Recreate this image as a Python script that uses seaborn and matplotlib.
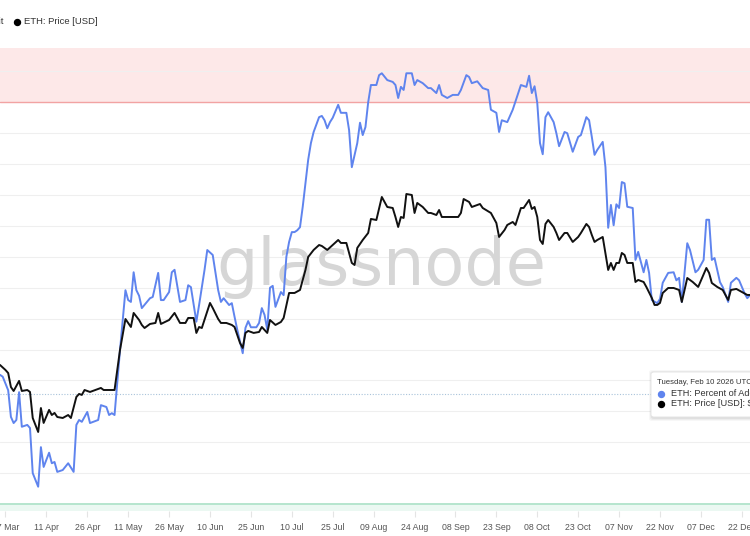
import pandas as pd
import seaborn as sns
import matplotlib.pyplot as plt
import matplotlib.dates as mdates
from matplotlib.lines import Line2D
from matplotlib.patches import FancyBboxPatch
from matplotlib.ticker import NullLocator

# days after 25 Mar 2025
start = pd.Timestamp('2025-03-25')

price_days = [0, 2, 3, 4, 5, 7, 8, 10, 11, 12,
              14, 15, 16, 18, 19, 20, 21, 23, 25, 26,
              28, 29, 30, 31, 33, 35, 37, 38, 41, 42,
              44, 46, 48, 49, 51, 52, 53, 55, 57, 58,
              59, 62, 64, 66, 68, 69, 71, 72, 73, 74,
              77, 78, 80, 81, 83, 85, 86, 88, 89, 90,
              91, 93, 95, 96, 98, 99, 101, 103, 104, 106,
              108, 110, 112, 113, 115, 117, 118, 120, 122, 124,
              125, 127, 129, 130, 131, 133, 135, 136, 138, 140,
              142, 144, 145, 146, 147, 148, 149, 151, 152, 153,
              155, 157, 158, 160, 161, 162, 164, 168, 169, 170,
              172, 173, 176, 177, 180, 182, 183, 185, 186, 188,
              189, 191, 192, 194, 195, 196, 197, 198, 199, 200,
              201, 203, 204, 205, 207, 208, 210, 212, 213, 215,
              216, 217, 218, 219, 221, 223, 224, 225, 226, 227,
              228, 229, 230, 232, 233, 234, 236, 237, 239, 240,
              241, 242, 243, 245, 247, 249, 250, 252, 254, 256,
              259, 260, 261, 263, 265, 267, 268, 270, 272, 274,
              275]
price_usd = [2046, 1994, 1963, 1827, 1790, 1885, 1790, 1799, 1781, 1558,
             1450, 1640, 1519, 1624, 1582, 1599, 1566, 1558, 1582, 1558,
             1736, 1763, 1754, 1799, 1781, 1799, 1818, 1799, 1799, 1799,
             2210, 2591, 2487, 2673, 2578, 2513, 2474, 2526, 2539, 2673,
             2526, 2578, 2673, 2539, 2539, 2605, 2605, 2412, 2487, 2474,
             2814, 2742, 2591, 2539, 2539, 2513, 2487, 2291, 2233, 2412,
             2437, 2412, 2424, 2487, 2412, 2578, 2513, 2552, 2605, 2962,
             2962, 3008, 3334, 3564, 3695, 3790, 3771, 3695, 3790, 3889,
             3830, 3830, 3456, 3420, 3733, 3889, 4032, 4333, 4310, 4851,
             4608, 4584, 4377, 4158, 4377, 4355, 4926, 4901, 4468, 4704,
             4608, 4468, 4468, 4422, 4537, 4377, 4377, 4377, 4468, 4801,
             4728, 4608, 4679, 4584, 4468, 4244, 3950, 4094, 4201, 4266,
             4201, 4584, 4584, 4777, 4561, 4608, 4377, 3889, 3810, 4223,
             4310, 4158, 4032, 3889, 4032, 4032, 3850, 3950, 4032, 4223,
             4158, 3990, 3850, 3889, 3950, 3334, 3456, 3334, 3456, 3456,
             3638, 3601, 3456, 3456, 3134, 3167, 3134, 3055, 2887, 2785,
             2785, 2814, 2962, 3039, 3039, 3008, 2828, 3199, 3134, 3055,
             3368, 3283, 3118, 3055, 3008, 2857, 3008, 3024, 2977, 2932,
             2932]

addr_days = [0, 1, 3, 4, 5, 6, 7, 8, 10, 11,
             12, 13, 14, 15, 16, 18, 19, 20, 21, 23,
             25, 27, 28, 29, 30, 32, 33, 36, 37, 39,
             40, 41, 42, 44, 46, 47, 48, 49, 50, 51,
             52, 55, 56, 58, 59, 60, 62, 63, 64, 66,
             68, 69, 70, 72, 73, 75, 76, 78, 80, 81,
             82, 84, 85, 86, 87, 89, 90, 91, 92, 94,
             95, 96, 97, 98, 99, 100, 101, 103, 104, 105,
             106, 107, 108, 109, 110, 111, 113, 114, 115, 117,
             118, 119, 120, 121, 122, 124, 125, 127, 128, 129,
             131, 132, 133, 134, 135, 136, 138, 139, 140, 142,
             144, 145, 146, 147, 148, 149, 151, 152, 153, 155,
             157, 158, 160, 161, 162, 164, 166, 168, 169, 171,
             172, 173, 175, 177, 179, 180, 182, 183, 184, 186,
             188, 190, 191, 193, 194, 195, 196, 197, 198, 199,
             200, 201, 203, 204, 205, 207, 208, 210, 212, 213,
             215, 216, 217, 218, 219, 221, 222, 223, 224, 225,
             226, 227, 228, 229, 230, 232, 233, 234, 236, 237,
             238, 239, 241, 242, 243, 245, 247, 248, 249, 250,
             252, 253, 255, 256, 258, 259, 260, 261, 262, 264,
             265, 267, 268, 270, 271, 273, 274, 275]
addr_pct = [45.9, 45.6, 43.4, 39.1, 38.1, 38.6, 43.1, 37.5, 37.8, 37.3,
            30.0, 28.9, 27.8, 34.2, 31.0, 33.3, 31.6, 31.8, 30.2, 30.5,
            31.6, 30.2, 37.8, 38.6, 38.3, 39.9, 38.1, 38.6, 41.0, 40.7,
            39.4, 39.7, 39.4, 49.9, 59.6, 58.0, 57.7, 62.5, 59.6, 58.7,
            56.7, 58.3, 58.5, 62.4, 58.0, 58.0, 59.3, 62.5, 62.9, 57.7,
            58.0, 60.4, 60.1, 54.5, 57.2, 62.9, 66.1, 65.3, 59.6, 57.7,
            58.3, 57.2, 57.5, 55.3, 53.2, 49.4, 53.5, 54.6, 53.6, 53.6,
            54.3, 56.7, 55.6, 53.2, 60.0, 60.3, 56.9, 59.3, 58.8, 65.0,
            67.4, 69.0, 69.0, 69.3, 69.8, 73.1, 80.7, 83.4, 85.2, 87.6,
            87.8, 87.1, 85.8, 86.8, 87.5, 89.6, 88.3, 88.3, 85.5, 79.5,
            83.4, 86.7, 84.7, 86.0, 90.0, 92.8, 92.8, 94.4, 94.7, 93.6,
            93.3, 92.8, 90.7, 92.5, 92.0, 94.7, 94.7, 92.8, 93.6, 93.1,
            92.3, 92.3, 91.5, 92.8, 91.2, 90.7, 91.2, 91.2, 92.0, 94.4,
            94.1, 93.1, 93.4, 92.3, 92.0, 88.8, 88.3, 85.2, 87.1, 86.8,
            88.8, 91.5, 92.8, 92.5, 94.3, 91.5, 92.6, 89.9, 83.4, 81.6,
            87.6, 88.4, 86.8, 85.0, 82.9, 85.2, 85.0, 82.0, 84.4, 84.7,
            87.6, 87.1, 84.4, 81.5, 82.3, 83.6, 79.5, 69.7, 73.4, 70.1,
            73.5, 72.9, 77.1, 76.9, 73.1, 72.9, 64.5, 65.8, 62.5, 64.5,
            62.4, 58.0, 57.5, 58.2, 60.8, 62.4, 62.5, 61.2, 61.6, 57.7,
            67.2, 66.1, 62.5, 62.9, 64.5, 71.0, 71.0, 64.5, 64.8, 60.9,
            60.1, 57.7, 60.8, 61.6, 61.2, 59.1, 58.3, 58.8]

tick_dates = pd.date_range('2025-03-27', '2025-12-22', freq='15D')
cursor_pct = 42.8   # dotted crosshair from the hovered point

price_dates = start + pd.to_timedelta(price_days, unit='D')
addr_dates = start + pd.to_timedelta(addr_days, unit='D')

sns.set_theme(style='white')
plt.rcParams['font.family'] = ['Liberation Sans', 'DejaVu Sans']

W, H = 750, 536
fig = plt.figure(figsize=(7.5, 5.36), dpi=100)
ax = fig.add_axes([0, 25 / H, 1, 463 / H])

blue = '#5f84ee'
lo, hi = 23.87, 98.79

# bands + grid
ax.axhspan(90, hi, color='#fde8e8', lw=0, zorder=0)
ax.axhspan(lo, 25, color='#ebf8f2', lw=0, zorder=0)
for v in range(30, 100, 5):
    ax.axhline(v, color='#efefef', lw=0.8, zorder=0.5)
ax.axhline(90, color='#f2a3a3', lw=1.0, zorder=1)
ax.axhline(25, color='#b5e5ce', lw=1.4, zorder=1)
ax.axhline(cursor_pct, color='#a9c3da', lw=0.8, ls=(0, (1, 1.5)), zorder=1)

ax.text(0.509, 0.488, 'glassnode', transform=ax.transAxes, ha='center',
        va='baseline', fontsize=47, fontweight='medium', color='#d6d6d6',
        family='DejaVu Sans', zorder=1.5)

sns.lineplot(x=addr_dates, y=addr_pct, ax=ax, color=blue, lw=1.4, zorder=3)
ax.set_ylim(lo, hi)

ax2 = ax.twinx()
sns.lineplot(x=price_dates, y=price_usd, ax=ax2, color='#111111', lw=1.4)
ax2.set_yscale('log')
ax2.set_ylim(966, 10431)

ax.set_xlim(start, start + pd.Timedelta(days=275))
ax.set_xticks(tick_dates)
ax.xaxis.set_major_formatter(mdates.DateFormatter('%d %b'))
ax.tick_params(axis='x', bottom=True, length=4, width=0.8, color='#e4e4e4',
               labelsize=6.3, labelcolor='#555555', pad=5)
for a in (ax, ax2):
    a.set_yticks([])
    a.yaxis.set_minor_locator(NullLocator())
    a.set_xlabel('')
    a.set_ylabel('')
    for s in a.spines.values():
        s.set_visible(False)

# legend row (cut at the left edge)
fig.text(3 / W, 1 - 21.5 / H, 'ETH: Percent of Addresses in Profit', ha='right',
         va='center', fontsize=6.8, color='#333333')
fig.add_artist(Line2D([17 / W], [1 - 21.5 / H], marker='o', ms=4.3, color='black',
                      transform=fig.transFigure))
fig.text(24 / W, 1 - 21.5 / H, 'ETH: Price [USD]', ha='left', va='center',
         fontsize=6.8, color='#333333')

# tooltip
for i, al in enumerate([0.05, 0.04, 0.03]):
    fig.patches.append(FancyBboxPatch(((651 - i) / W, (536 - 419 - i) / H),
                                      (110 + 2 * i) / W, (47 + 2 * i) / H,
                                      boxstyle='round,pad=0,rounding_size=0.004',
                                      transform=fig.transFigure, facecolor='black',
                                      alpha=al, lw=0))
fig.patches.append(FancyBboxPatch((651 / W, (536 - 417) / H), 110 / W, 45 / H,
                                  boxstyle='round,pad=0,rounding_size=0.004',
                                  transform=fig.transFigure, facecolor='white',
                                  edgecolor='#e2e2e2', lw=0.6))
fig.text(657 / W, 1 - 382 / H, 'Tuesday, Feb 10 2026 UTC', ha='left', va='center',
         fontsize=5.6, color='#333333')
fig.add_artist(Line2D([661 / W], [1 - 394 / H], marker='o', ms=4.3, color=blue,
                      transform=fig.transFigure))
fig.text(671 / W, 1 - 394 / H, 'ETH: Percent of Addresses in Profit:', ha='left',
         va='center', fontsize=6.6, color='#333333')
fig.add_artist(Line2D([661 / W], [1 - 404 / H], marker='o', ms=4.3, color='black',
                      transform=fig.transFigure))
fig.text(671 / W, 1 - 404 / H, 'ETH: Price [USD]: $', ha='left', va='center',
         fontsize=6.6, color='#333333')

fig.savefig('out.png', dpi=100)
